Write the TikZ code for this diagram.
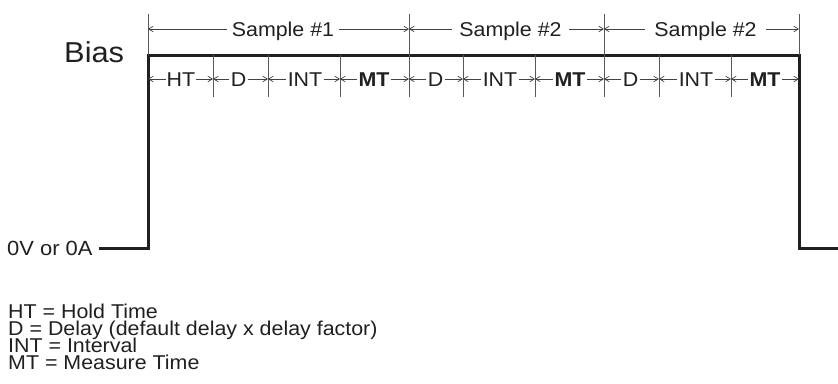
\documentclass[tikz,border=0pt]{standalone}
\usepackage{fontspec}
\setmainfont[FakeStretch=1.07]{Liberation Sans}
\usetikzlibrary{arrows.meta}
\definecolor{ink}{HTML}{231F20}
\newcommand{\tightlines}{\lineskiplimit=-30pt\relax\lineskip=0pt\relax}
\begin{document}
\begin{tikzpicture}[x=1pt,y=-1pt,
  wave/.style={line width=3pt, line join=miter, draw=ink},
  tickline/.style={line width=0.8pt, draw=ink!75},
  dim/.style={line width=0.7pt, draw=ink!85, -{Straight Barb[length=4.5pt,width=5.5pt]}},
  lbl/.style={font=\fontsize{20}{20}\selectfont, text=ink, inner xsep=1.5pt, inner ysep=0pt, text height=14.3pt, text depth=0pt},
  smp/.style={lbl, inner xsep=6pt},
  legend/.style={font=\fontsize{20}{17.2}\selectfont\tightlines, text=ink, inner sep=0pt, anchor=base west}
]
\useasboundingbox (0,0) rectangle (838,383);

% waveform
\coordinate (w0) at (99,248);
\coordinate (w1) at (148,248);
\coordinate (w2) at (148,55);
\coordinate (w3) at (799,55);
\coordinate (w4) at (799,248);
\coordinate (w5) at (840,248);
\draw[wave] (w0) -- (w1) -- (w2) -- (w3) -- (w4) -- (w5);

% upper ticks
\foreach \n/\x in {0/148,1/409,2/604,3/799}{
  \coordinate (ut\n) at (\x,14);
  \coordinate (ub\n) at (\x,55);
  \coordinate (q\n) at (\x,29);
  \draw[tickline] (ut\n) -- (ub\n);
}
% lower ticks
\foreach \n/\x in {1/213,2/268,3/340,4/409,5/463,6/535,7/604,8/659,9/731}{
  \coordinate (lt\n) at (\x,55);
  \coordinate (lb\n) at (\x,97);
  \draw[tickline] (lt\n) -- (lb\n);
}
\foreach \n/\x in {0/148,1/213,2/268,3/340,4/409,5/463,6/535,7/604,8/659,9/731,10/799}{
  \coordinate (p\n) at (\x,79);
}

% sample labels
\node[smp, inner xsep=5pt] (s1) at (283,29) {Sample \#1};
\node[smp, inner xsep=7.5pt] (s2) at (510.5,29) {Sample \#2};
\node[smp, inner xsep=9.5pt] (s3) at (705.5,29) {Sample \#2};
\draw[dim] (s1) -- (q0); \draw[dim] (s1) -- (q1);
\draw[dim] (s2) -- (q1); \draw[dim] (s2) -- (q2);
\draw[dim] (s3) -- (q2); \draw[dim] (s3) -- (q3);

% row labels
\node[lbl, inner xsep=1pt] (ht) at (181,79) {HT};
\node[lbl] (d1) at (238.5,79) {D};
\node[lbl] (i1) at (305,79) {INT};
\node[lbl] (m1) at (374,79) {\textbf{MT}};
\node[lbl] (d2) at (435.5,79) {D};
\node[lbl] (i2) at (500,79) {INT};
\node[lbl] (m2) at (570,79) {\textbf{MT}};
\node[lbl] (d3) at (630.5,79) {D};
\node[lbl] (i3) at (696,79) {INT};
\node[lbl] (m3) at (765,79) {\textbf{MT}};
\draw[dim] (ht) -- (p0); \draw[dim] (ht) -- (p1);
\draw[dim] (d1) -- (p1); \draw[dim] (d1) -- (p2);
\draw[dim] (i1) -- (p2); \draw[dim] (i1) -- (p3);
\draw[dim] (m1) -- (p3); \draw[dim] (m1) -- (p4);
\draw[dim] (d2) -- (p4); \draw[dim] (d2) -- (p5);
\draw[dim] (i2) -- (p5); \draw[dim] (i2) -- (p6);
\draw[dim] (m2) -- (p6); \draw[dim] (m2) -- (p7);
\draw[dim] (d3) -- (p7); \draw[dim] (d3) -- (p8);
\draw[dim] (i3) -- (p8); \draw[dim] (i3) -- (p9);
\draw[dim] (m3) -- (p9); \draw[dim] (m3) -- (p10);

% side labels
\node[legend, font=\fontsize{28.8}{28.8}\selectfont] (bias) at (64,62) {Bias};
\node[legend, font=\fontsize{20.5}{20.5}\selectfont] (zero) at (7,255) {0V or 0A};

% legend
\node[legend, anchor=north west, align=left] (leg) at (8,303.5)
  {HT = Hold Time\\
   D = Delay (default delay x delay factor)\\
   INT = Interval\\
   MT = Measure Time};
\end{tikzpicture}
\end{document}
